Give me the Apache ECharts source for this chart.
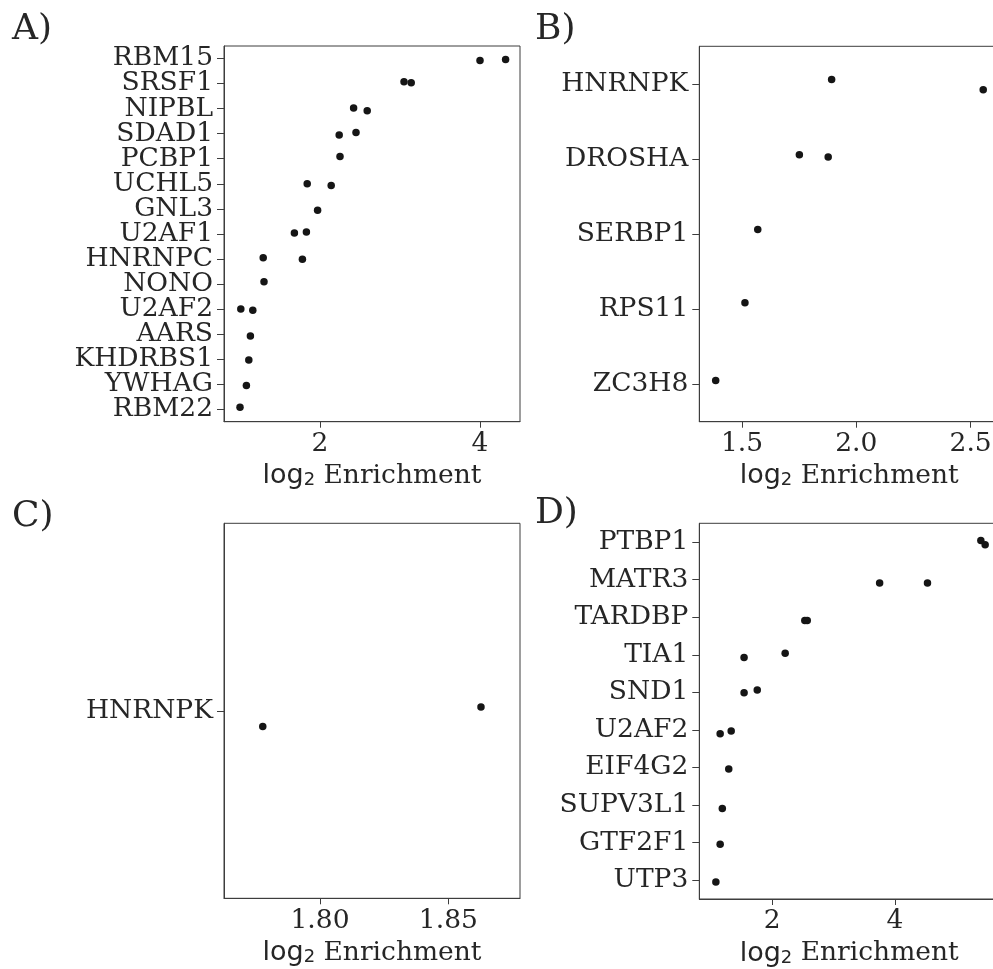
<!DOCTYPE html>
<html>
<head>
<meta charset="utf-8">
<script src="https://cdn.jsdelivr.net/npm/echarts@6/dist/echarts.min.js"></script>
<style>
  html, body { margin: 0; padding: 0; background: #ffffff; }
  #chart { width: 993px; height: 969px; }
</style>
</head>
<body>
<div id="chart"></div>
<script>
// ---- Panel A ----
const catsA = ['RBM15', 'SRSF1', 'NIPBL', 'SDAD1', 'PCBP1', 'UCHL5', 'GNL3', 'U2AF1',
               'HNRNPC', 'NONO', 'U2AF2', 'AARS', 'KHDRBS1', 'YWHAG', 'RBM22'];
const valsA = [[4.00, 4.32], [3.05, 3.14], [2.42, 2.59], [2.24, 2.45], [2.25], [1.84, 2.14],
               [1.97], [1.68, 1.83], [1.29, 1.78], [1.30], [1.01, 1.16], [1.13], [1.11], [1.08], [1.00]];
const jitA  = [[0.08, 0.04], [-0.07, -0.03], [-0.02, 0.09], [0.05, -0.05], [-0.09], [0.00, 0.07],
               [0.06], [-0.03, -0.07], [-0.05, 0.01], [-0.09], [0.00, 0.05], [0.08], [0.04], [0.05], [-0.08]];
const ticksA = [2, 4];
const tickLabelsA = ['2', '4'];

// ---- Panel B ----
const catsB = ['HNRNPK', 'DROSHA', 'SERBP1', 'RPS11', 'ZC3H8'];
const valsB = [[1.892, 2.555], [1.751, 1.877], [1.569], [1.513], [1.385]];
const jitB  = [[-0.057, 0.08], [-0.057, -0.027], [-0.06], [-0.084], [-0.049]];
const ticksB = [1.5, 2.0, 2.5];
const tickLabelsB = ['1.5', '2.0', '2.5'];

// ---- Panel C ----
const catsC = ['HNRNPK'];
const valsC = [[1.7777, 1.8627]];
const jitC  = [[0.042, -0.010]];
const ticksC = [1.80, 1.85];
const tickLabelsC = ['1.80', '1.85'];

// ---- Panel D ----
const catsD = ['PTBP1', 'MATR3', 'TARDBP', 'TIA1', 'SND1', 'U2AF2', 'EIF4G2', 'SUPV3L1', 'GTF2F1', 'UTP3'];
const valsD = [[5.40, 5.47], [3.75, 4.53], [2.53, 2.57], [1.54, 2.21], [1.54, 1.755],
               [1.15, 1.33], [1.29], [1.185], [1.15], [1.08]];
const jitD  = [[-0.04, 0.07], [0.09, 0.09], [0.09, 0.09], [0.07, -0.04], [0.01, -0.06],
               [0.10, 0.03], [0.04], [0.09], [0.04], [0.05]];
const ticksD = [2, 4];
const tickLabelsD = ['2', '4'];

const panelLetters = ['A)', 'B)', 'C)', 'D)'];

// ---- styling ----
const INK = '#262626';
const SPINE = '#3d3d3d';
const SERIF = 'DejaVu Serif';
const SANS = 'DejaVu Sans';

const panels = [
  { cats: catsA, vals: valsA, jit: jitA, ticks: ticksA, labels: tickLabelsA, min: 0.8,    max: 4.5,
    grid: { left: 224,   top: 46,    width: 296,   height: 375.7 } },
  { cats: catsB, vals: valsB, jit: jitB, ticks: ticksB, labels: tickLabelsB, min: 1.3134, max: 2.624,
    grid: { left: 699.3, top: 46.3,  width: 299.7, height: 375.4 } },
  { cats: catsC, vals: valsC, jit: jitC, ticks: ticksC, labels: tickLabelsC, min: 1.7626, max: 1.8779,
    grid: { left: 224,   top: 523.3, width: 296,   height: 375 } },
  { cats: catsD, vals: valsD, jit: jitD, ticks: ticksD, labels: tickLabelsD, min: 0.81,   max: 5.696,
    grid: { left: 699.3, top: 523.3, width: 299.7, height: 375.7 } }
];

const letterPos = [
  { left: 12,  top: 12 },
  { left: 535, top: 12 },
  { left: 12,  top: 499 },
  { left: 535, top: 496 }
];

const grids = [], xAxes = [], yAxes = [], series = [], titles = [];

panels.forEach((p, k) => {
  grids.push(Object.assign({
    show: true, borderColor: SPINE, borderWidth: 1, backgroundColor: 'transparent',
    containLabel: false, outerBoundsMode: 'none'
  }, p.grid));

  xAxes.push({
    type: 'value', gridIndex: k, min: p.min, max: p.max,
    name: '{a|log}{b|2}{c| Enrichment}',
    nameLocation: 'middle', nameGap: 34,
    nameTextStyle: {
      rich: {
        a: { fontFamily: SANS,  fontSize: 27, color: INK, lineHeight: 34, verticalAlign: 'bottom' },
        b: { fontFamily: SANS,  fontSize: 18, color: INK, lineHeight: 14, verticalAlign: 'bottom' },
        c: { fontFamily: SERIF, fontSize: 26.5, color: INK, lineHeight: 34, verticalAlign: 'bottom' }
      }
    },
    axisLine: { show: true, onZero: false, lineStyle: { color: SPINE, width: 1 } },
    axisTick: { show: true, length: 6, customValues: p.ticks, lineStyle: { color: SPINE, width: 1 } },
    axisLabel: {
      show: true, customValues: p.ticks, margin: 9,
      fontFamily: SERIF, fontSize: 26.5, color: INK,
      formatter: v => {
        const i = p.ticks.findIndex(t => Math.abs(t - v) < 1e-9);
        return i >= 0 ? p.labels[i] : '';
      }
    },
    splitLine: { show: false }
  });

  // category axis carrying the gene names
  yAxes.push({
    type: 'category', gridIndex: k, data: p.cats, inverse: true,
    axisLine: { show: true, onZero: false, lineStyle: { color: SPINE, width: 1 } },
    axisTick: { show: true, alignWithLabel: true, length: 7, lineStyle: { color: SPINE, width: 1 } },
    axisLabel: { margin: 11, fontFamily: SERIF, fontSize: 26.5, color: INK, interval: 0 },
    splitLine: { show: false }
  });
  // hidden numeric twin used to place the jittered dots
  yAxes.push({
    type: 'value', gridIndex: k, min: -0.5, max: p.cats.length - 0.5, inverse: true, show: false,
    axisLine: { onZero: false }, splitLine: { show: false }
  });

  const pts = [];
  p.vals.forEach((row, i) => {
    row.forEach((v, j) => pts.push([v, i + p.jit[i][j]]));
  });
  series.push({
    type: 'scatter', xAxisIndex: k, yAxisIndex: 2 * k + 1,
    data: pts, symbol: 'circle', symbolSize: 7.5,
    itemStyle: { color: '#151515', opacity: 1 }, silent: true, animation: false
  });

  titles.push({
    text: panelLetters[k], left: letterPos[k].left, top: letterPos[k].top, padding: 0,
    textStyle: { fontFamily: SERIF, fontSize: 36, fontWeight: 'normal', color: INK }
  });
});

const chart = echarts.init(document.getElementById('chart'), null, { renderer: 'canvas' });
chart.setOption({
  backgroundColor: '#ffffff',
  animation: false,
  title: titles,
  grid: grids,
  xAxis: xAxes,
  yAxis: yAxes,
  series: series
});
</script>
</body>
</html>
